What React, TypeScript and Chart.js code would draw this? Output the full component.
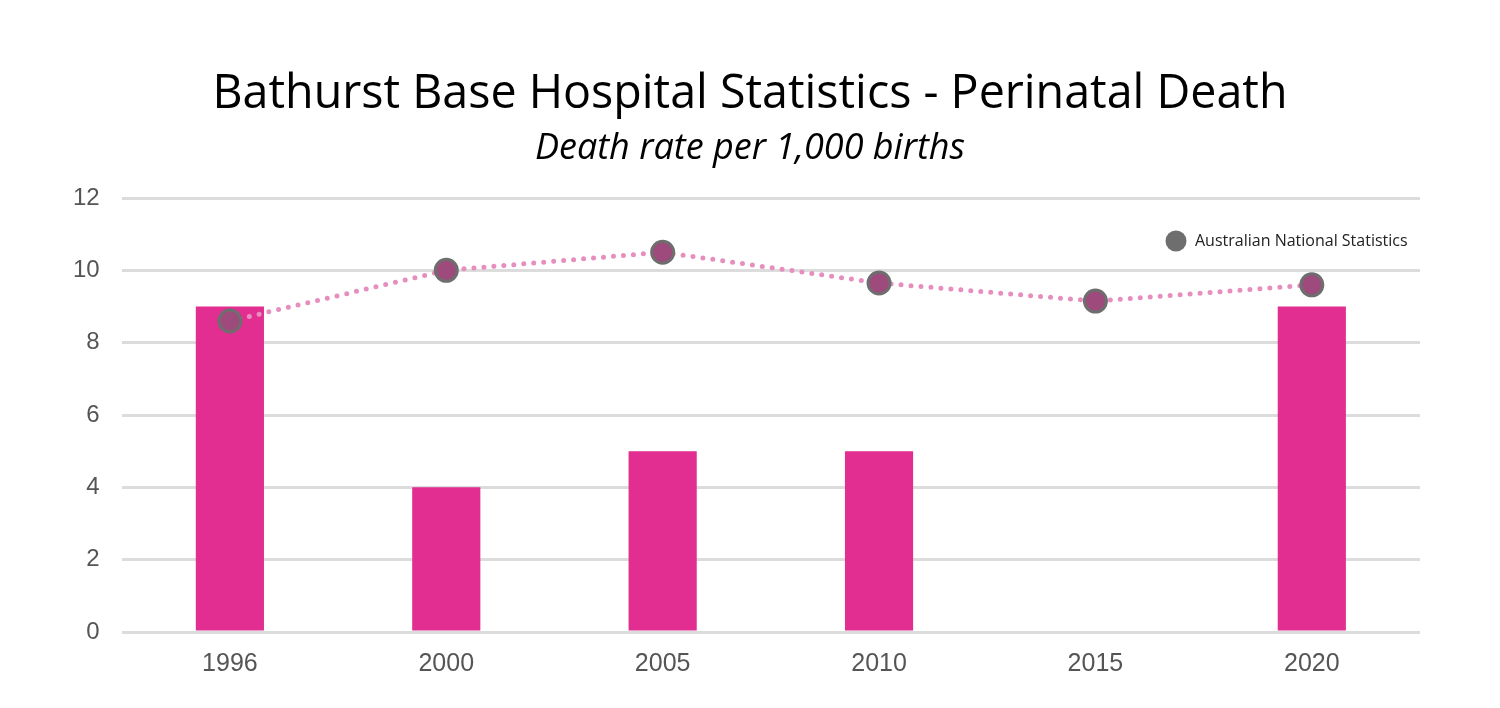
import React, { useEffect, useRef } from "react";
import { Chart, registerables } from "chart.js";

Chart.register(...registerables);

const categories = ["1996", "2000", "2005", "2010", "2015", "2020"];
const hospitalValues = [9, 4, 5, 5, null, 9];
const nationalValues = [8.6, 10.0, 10.5, 9.65, 9.15, 9.6];
const nationalLabel = "Australian National Statistics";
const titleText = "Bathurst Base Hospital Statistics - Perinatal Death";
const subtitleText = "Death rate per 1,000 births";

const legendPlugin = {
  id: "insideLegend",
  afterDraw(chart: any) {
    const { ctx, chartArea } = chart;
    ctx.save();
    const x = chartArea.right - 244;
    const y = chartArea.top + 43;
    ctx.beginPath();
    ctx.arc(x, y, 10.5, 0, Math.PI * 2);
    ctx.fillStyle = "#6e6e6e";
    ctx.fill();
    ctx.fillStyle = "#222222";
    ctx.font = "16px 'Open Sans'";
    ctx.textBaseline = "middle";
    ctx.textAlign = "left";
    ctx.fillText(nationalLabel, x + 19, y);
    ctx.restore();
  },
};

export default function App() {
  const ref = useRef<HTMLCanvasElement>(null);
  useEffect(() => {
    if (!ref.current) return;
    const chart = new Chart(ref.current, {
      type: "bar",
      data: {
        labels: categories,
        datasets: [
          {
            type: "line",
            label: nationalLabel,
            data: nationalValues,
            borderColor: "#e68fbf",
            borderWidth: 5,
            borderDash: [0, 10],
            borderCapStyle: "round",
            pointRadius: 11,
            pointBackgroundColor: "#9e4a7c",
            pointBorderColor: "#6e6e6e",
            pointBorderWidth: 3,
            tension: 0,
            order: 0,
          } as any,
          {
            type: "bar",
            label: "Bathurst Base Hospital",
            data: hospitalValues,
            backgroundColor: "#e22d91",
            barPercentage: 0.315,
            categoryPercentage: 1,
            order: 1,
          } as any,
        ],
      },
      options: {
        animation: false,
        responsive: true,
        maintainAspectRatio: false,
        layout: { padding: { top: 198, left: 51, right: 80, bottom: 20 } },
        plugins: {
          legend: { display: false },
          tooltip: { enabled: false },
          title: { display: false },
        },
        scales: {
          x: {
            grid: { display: false },
            border: { display: false },
            ticks: {
              color: "#555555",
              font: { family: "'Liberation Sans', Arial", size: 25 },
              padding: 9,
            },
          },
          y: {
            min: 0,
            max: 12,
            grid: { color: "#dcdcdc", lineWidth: 3, drawTicks: false },
            border: { display: false },
            ticks: {
              stepSize: 2,
              color: "#555555",
              font: { family: "'Liberation Sans', Arial", size: 24 },
              padding: 22,
            },
          },
        },
      },
      plugins: [legendPlugin],
    });
    return () => chart.destroy();
  }, []);
  return (
    <div style={{ position: "fixed", left: 0, top: 0, width: 1500, height: 708, background: "#fff" }}>
      <canvas ref={ref} />
      <div
        style={{
          position: "absolute",
          left: 0,
          width: 1500,
          top: 62,
          height: 56,
          lineHeight: "56px",
          textAlign: "center",
          fontFamily: "'Open Sans'",
          fontSize: 46.6,
          color: "#000",
        }}
      >
        {titleText}
      </div>
      <div
        style={{
          position: "absolute",
          left: 0,
          width: 1500,
          top: 124,
          height: 44,
          lineHeight: "44px",
          textAlign: "center",
          fontFamily: "'Open Sans'",
          fontStyle: "italic",
          fontSize: 36,
          color: "#000",
        }}
      >
        {subtitleText}
      </div>
    </div>
  );
}
